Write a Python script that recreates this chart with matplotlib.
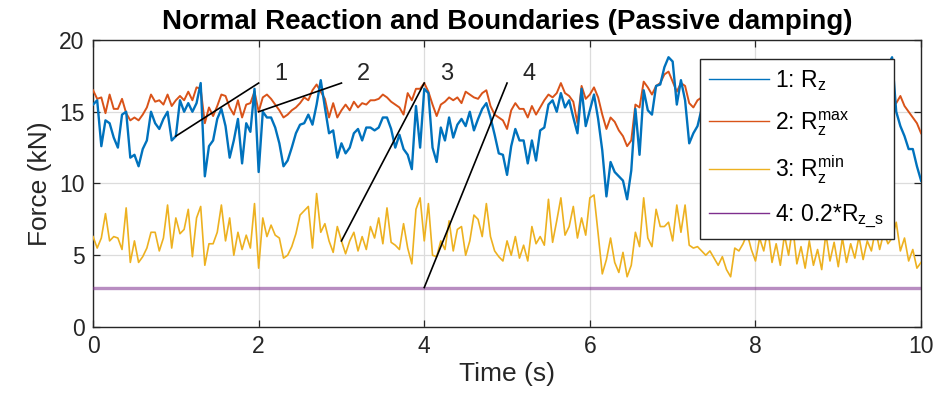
import matplotlib
matplotlib.use("Agg")
import matplotlib.pyplot as plt
import numpy as np

plt.rcParams["font.family"] = ["Liberation Sans", "DejaVu Sans"]
plt.rcParams["mathtext.default"] = "regular"

BLUE = "#0072BD"
ORANGE = "#D95319"
YELLOW = "#EDB120"
PURPLE = "#7E2F8E"
GRID = "#DCDCDC"
AXIS = "#262626"

# sample times (s), 0.05 s step
TIME = np.linspace(0.0, 10.0, 201)

# 1: Rz (kN)
RZ = [
    15.5, 15.8, 12.6, 14.4, 14.2, 13.2, 12.5, 14.8, 15.0, 11.8, 12.0, 11.2, 12.4, 13.0, 15.0, 14.2, 13.8, 14.5, 15.0, 13.0,
    13.3, 15.8, 15.0, 15.6, 15.0, 15.6, 17.0, 10.5, 12.6, 13.0, 14.5, 15.2, 14.0, 11.8, 13.0, 14.5, 11.4, 14.2, 13.6, 16.6,
    10.8, 15.0, 14.6, 14.6, 13.9, 12.8, 11.2, 11.6, 12.5, 13.5, 14.1, 14.2, 14.8, 14.1, 15.5, 17.2, 15.3, 13.5, 13.7, 11.8,
    12.8, 12.1, 12.5, 13.5, 13.8, 13.0, 13.9, 13.9, 13.7, 13.9, 14.6, 14.6, 13.8, 12.5, 13.4, 12.4, 12.0, 11.0, 15.4, 12.5,
    16.6, 16.3, 12.5, 11.5, 13.9, 13.0, 14.6, 13.2, 14.1, 14.5, 14.0, 15.0, 13.7, 14.5, 15.2, 15.6, 14.6, 13.4, 12.1, 12.0,
    10.6, 12.6, 13.8, 13.0, 13.0, 11.4, 13.0, 11.6, 13.7, 13.9, 15.5, 15.8, 15.0, 16.3, 15.3, 15.8, 14.6, 13.5, 16.6, 14.0,
    15.1, 16.2, 14.5, 12.3, 9.1, 11.5, 10.8, 10.5, 10.2, 8.9, 10.9, 15.2, 12.0, 16.5, 15.1, 14.8, 16.8, 16.9, 18.1, 18.8,
    18.5, 15.5, 17.2, 15.8, 12.8, 13.5, 14.0, 15.2, 14.6, 13.5, 15.8, 16.2, 15.0, 14.3, 15.5, 16.0, 14.8, 13.9, 15.2, 16.4,
    15.1, 14.5, 13.8, 15.0, 15.9, 16.3, 15.4, 14.2, 14.9, 15.7, 16.1, 15.0, 14.4, 13.7, 14.8, 15.6, 16.0, 15.3, 14.6, 15.2,
    16.5, 15.8, 14.9, 14.1, 15.4, 16.2, 15.5, 14.7, 15.3, 16.0, 16.8, 17.5, 18.2, 18.8, 15.0, 14.0, 13.3, 12.4, 12.4, 11.2,
    10.2,
]

# 2: Rz max (kN)
RZ_MAX = [
    16.5, 15.9, 16.0, 14.9, 16.2, 15.2, 15.2, 15.9, 14.9, 14.4, 14.6, 14.4, 14.8, 15.3, 16.2, 15.7, 15.8, 15.5, 16.2, 15.4,
    15.8, 16.1, 15.8, 16.4, 15.8, 16.7, 16.6, 14.2, 15.3, 14.7, 15.4, 16.2, 16.1, 15.3, 14.8, 15.8, 14.6, 15.5, 15.6, 16.4,
    15.0, 16.0, 16.2, 15.9, 15.5, 15.1, 14.6, 14.8, 15.1, 15.3, 15.6, 16.0, 15.8, 16.5, 16.9, 16.4, 15.9, 14.6, 15.6, 14.6,
    15.1, 15.5, 15.1, 15.7, 15.3, 15.6, 15.5, 15.8, 15.8, 15.9, 16.2, 16.0, 15.7, 15.5, 15.3, 14.8, 16.3, 15.8, 16.6, 16.6,
    17.0, 16.4, 15.5, 14.7, 15.5, 15.7, 16.0, 15.8, 16.0, 15.6, 16.4, 16.2, 16.0, 15.9, 16.3, 16.5, 15.4, 14.8, 14.6, 14.4,
    13.8, 15.1, 15.6, 15.2, 15.2, 14.6, 15.4, 14.8, 15.3, 15.8, 16.2, 16.0, 16.3, 17.0, 16.3, 16.1, 15.7, 14.2, 16.8, 15.9,
    16.2, 16.7, 16.0, 14.8, 13.8, 14.6, 14.3, 13.7, 13.3, 12.6, 13.0, 15.5, 15.3, 17.1, 16.7, 16.2, 16.8, 17.0, 17.6, 17.8,
    17.1, 16.4, 17.0, 16.8, 15.6, 15.3, 15.8, 16.0, 15.7, 15.4, 16.3, 16.6, 16.1, 15.6, 16.2, 16.5, 15.9, 15.5, 16.0, 16.8,
    16.2, 15.8, 15.4, 15.9, 16.4, 16.7, 16.2, 15.6, 15.9, 16.3, 16.6, 16.0, 15.7, 15.3, 15.8, 16.2, 16.5, 16.1, 15.8, 16.0,
    16.9, 16.4, 15.9, 15.5, 16.1, 16.7, 16.3, 15.9, 16.1, 16.5, 16.8, 17.0, 16.6, 16.2, 15.6, 16.1, 15.4, 15.0, 14.6, 14.2,
    13.5,
]

# 3: Rz min (kN)
RZ_MIN = [
    6.3, 5.5, 6.2, 7.9, 6.0, 6.3, 6.2, 5.4, 8.3, 4.5, 6.0, 4.5, 4.9, 5.5, 6.6, 6.6, 5.3, 6.2, 8.5, 5.5,
    7.6, 6.5, 6.8, 8.2, 4.9, 7.6, 8.4, 4.3, 5.8, 5.8, 6.6, 8.5, 6.0, 7.6, 5.0, 6.6, 5.4, 6.4, 5.5, 8.6,
    4.1, 7.6, 6.3, 7.1, 6.4, 6.2, 4.8, 5.0, 5.6, 6.5, 7.8, 8.1, 8.4, 5.5, 9.3, 6.6, 7.2, 6.0, 5.2, 7.0,
    6.0, 5.1, 6.0, 6.6, 5.3, 6.3, 5.4, 7.0, 6.2, 7.6, 5.8, 8.3, 5.9, 5.7, 5.4, 7.2, 5.5, 4.4, 8.2, 9.0,
    6.0, 8.6, 5.0, 4.9, 6.0, 5.4, 7.4, 5.3, 6.8, 7.0, 5.0, 6.0, 7.8, 7.5, 6.3, 8.6, 6.3, 5.3, 4.9, 4.6,
    6.0, 5.0, 6.3, 4.8, 5.7, 4.6, 7.0, 5.8, 6.3, 5.7, 8.9, 5.9, 7.4, 9.0, 6.4, 7.0, 8.4, 6.2, 7.6, 6.4,
    9.0, 9.2, 6.5, 3.7, 4.7, 6.2, 4.5, 3.8, 5.2, 3.5, 4.3, 6.6, 5.6, 9.0, 6.2, 5.6, 8.2, 7.0, 7.0, 7.3,
    6.0, 8.5, 6.6, 8.5, 5.7, 5.5, 5.6, 5.3, 5.0, 5.3, 4.8, 4.3, 4.9, 4.0, 3.5, 5.5, 5.3, 5.8, 6.5, 5.4,
    4.6, 6.2, 5.3, 6.8, 4.5, 5.8, 4.3, 6.4, 5.0, 7.0, 4.4, 5.6, 4.1, 6.0, 4.3, 5.4, 4.0, 6.5, 4.6, 5.9,
    4.2, 6.2, 4.5, 5.8, 4.8, 6.3, 4.7, 6.0, 5.3, 6.8, 5.4, 6.6, 5.8, 6.2, 7.3, 5.3, 6.2, 4.6, 5.4, 4.1,
    4.5,
]

# 4: 0.2 * static Rz (kN)
LOW_TIME = [0.0, 10.0]
LOW_VALUE = [2.75, 2.75]

LABELS = ["1: R$_z$", "2: R$_z^{max}$", "3: R$_z^{min}$", "4: 0.2*R$_{z\\_s}$"]

# numbered pointer lines: start time on each curve, end one second later
POINTER_T = [1.0, 2.0, 3.0, 4.0]
POINTER_END = 17.0


fig = plt.figure(figsize=(9.37, 4.07), dpi=100)
ax = fig.add_axes([0.0993, 0.1966, 0.8837, 0.7051])

ax.plot(TIME, RZ, color=BLUE, lw=1.7, label=LABELS[0], zorder=3)
ax.plot(TIME, RZ_MAX, color=ORANGE, lw=1.4, label=LABELS[1], zorder=2.9)
ax.plot(TIME, RZ_MIN, color=YELLOW, lw=1.2, label=LABELS[2], zorder=2.8)
ax.plot(LOW_TIME, LOW_VALUE, color=PURPLE, lw=2.4, alpha=0.55, label=LABELS[3], zorder=2.7)

curves = [(TIME, RZ), (TIME, RZ_MAX), (TIME, RZ_MIN), (LOW_TIME, LOW_VALUE)]
for k, (t0, (tx, ty)) in enumerate(zip(POINTER_T, curves)):
    y0 = np.interp(t0, tx, ty)
    ax.plot([t0, t0 + 1.0], [y0, POINTER_END], color="black", lw=1.2, zorder=4)
    ax.text(t0 + 1.27, POINTER_END + 0.6, str(k + 1), fontsize=17, color="#262626",
            ha="center", va="center", zorder=4)

ax.set_xlim(0, 10)
ax.set_ylim(0, 20)
ax.set_xticks(np.arange(0, 11, 2))
ax.set_yticks(np.arange(0, 21, 5))
ax.grid(True, color=GRID, lw=0.9)
ax.set_axisbelow(True)
ax.tick_params(direction="in", length=5, width=0.9, top=True, right=True,
               labelsize=16.5, colors=AXIS, pad=6)
for s in ax.spines.values():
    s.set_color(AXIS)
    s.set_linewidth(1.0)

ax.set_title("Normal Reaction and Boundaries (Passive damping)", fontsize=20,
             fontweight="bold", color="black", pad=8)
ax.set_xlabel("Time (s)", fontsize=19, color=AXIS, labelpad=3)
ax.set_ylabel("Force (kN)", fontsize=19, color=AXIS, labelpad=5)

leg = ax.legend(loc="upper right", bbox_to_anchor=(0.967, 0.934), borderaxespad=0,
                fontsize=16.5, frameon=True, fancybox=False, framealpha=1,
                edgecolor="#262626", handlelength=2.6, handletextpad=0.3,
                labelspacing=0.7, borderpad=0.4)
leg.get_frame().set_linewidth(1.0)
for line in leg.get_lines():
    line.set_linewidth(1.0)
    line.set_alpha(1.0)
leg.set_zorder(10)

fig.savefig("out.png", dpi=100)
